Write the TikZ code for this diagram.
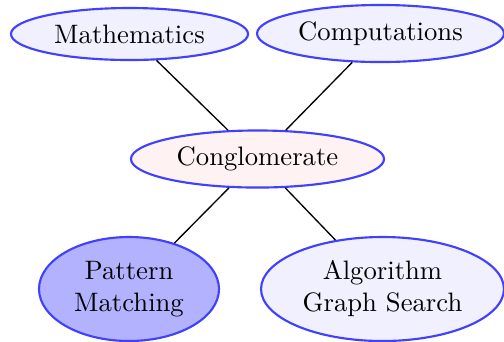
\documentclass[tikz,border=0pt]{standalone}
\usetikzlibrary{shapes.geometric}
\begin{document}
\begin{tikzpicture}[x=0.375pt,y=-0.375pt,
  bubble/.style={ellipse,draw=blue!75,thick,inner sep=0pt,align=center,font=\normalsize},
  link/.style={draw=black,line width=0.5pt}]
\useasboundingbox (0,0) rectangle (504,341);
\node[bubble,fill=blue!6,minimum width=88.9pt,minimum height=19.5pt] (math) at (129.5,34) {Mathematics};
\node[bubble,fill=blue!6,minimum width=92.6pt,minimum height=21.4pt] (comp) at (380.5,33.5) {Computations};
\node[bubble,fill=red!5,minimum width=94.9pt,minimum height=21.4pt] (cong) at (257.5,159) {Conglomerate};
\node[bubble,fill=blue!30,minimum width=67.5pt,minimum height=39pt] (pat) at (129,289) {Pattern\\Matching};
\node[bubble,fill=blue!6,minimum width=91.1pt,minimum height=39pt] (alg) at (382.5,289) {Algorithm\\Graph Search};
\draw[link] (math) -- (cong);
\draw[link] (comp) -- (cong);
\draw[link] (cong) -- (pat);
\draw[link] (cong) -- (alg);
\end{tikzpicture}
\end{document}
